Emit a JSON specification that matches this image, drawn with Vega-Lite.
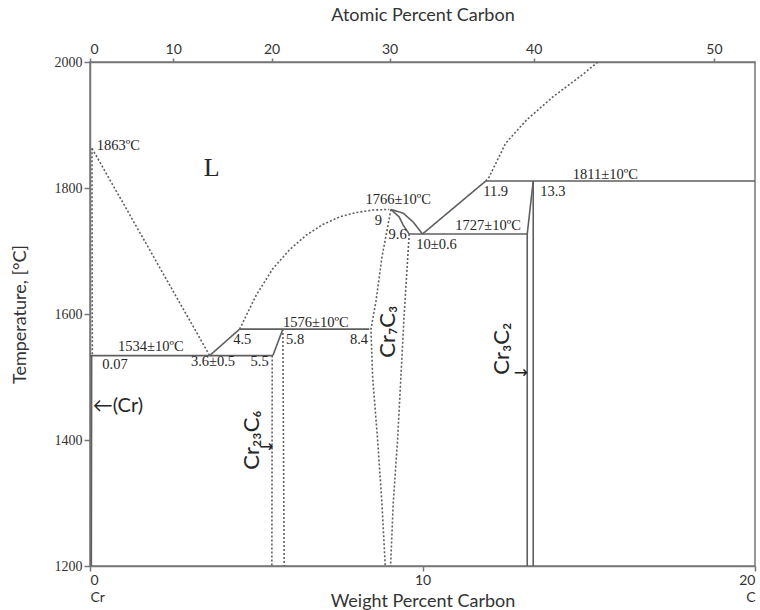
{
  "$schema": "https://vega.github.io/schema/vega-lite/v6.json",
  "width": 665,
  "height": 504,
  "autosize": {"type": "none"},
  "padding": {"left": 90, "top": 62, "right": 5, "bottom": 44},
  "background": "white",
  "config": {
    "view": {"stroke": "#777", "strokeWidth": 1.5},
    "axis": {
      "domainColor": "#777", "domainWidth": 1.5, "tickColor": "#777", "tickWidth": 1.5,
      "labelColor": "#333", "titleColor": "#333", "labelFont": "Lato", "titleFont": "Lato",
      "titleFontWeight": "normal", "grid": false
    }
  },
  "datasets": {
    "lines": [
      {"id": "A", "o": 0, "wt": 0.06, "T": 1863, "s": "dot"},
      {"id": "A", "o": 1, "wt": 3.6, "T": 1534, "s": "dot"},
      {"id": "B", "o": 0, "wt": 0.06, "T": 1863, "s": "dot"},
      {"id": "B", "o": 1, "wt": 0.07, "T": 1534, "s": "dot"},
      {"id": "C", "o": 0, "wt": 0.05, "T": 1534, "s": "solid"},
      {"id": "C", "o": 1, "wt": 0.04, "T": 1200, "s": "solid"},
      {"id": "D", "o": 0, "wt": 0.0, "T": 1534, "s": "solid"},
      {"id": "D", "o": 1, "wt": 5.5, "T": 1534, "s": "solid"},
      {"id": "E", "o": 0, "wt": 3.6, "T": 1534, "s": "solid"},
      {"id": "E", "o": 1, "wt": 4.5, "T": 1576, "s": "solid"},
      {"id": "F", "o": 0, "wt": 4.5, "T": 1576, "s": "dot"},
      {"id": "F", "o": 1, "wt": 5.0, "T": 1630, "s": "dot"},
      {"id": "F", "o": 2, "wt": 5.5, "T": 1672, "s": "dot"},
      {"id": "F", "o": 3, "wt": 6.0, "T": 1702, "s": "dot"},
      {"id": "F", "o": 4, "wt": 6.5, "T": 1725, "s": "dot"},
      {"id": "F", "o": 5, "wt": 7.0, "T": 1742, "s": "dot"},
      {"id": "F", "o": 6, "wt": 7.5, "T": 1754, "s": "dot"},
      {"id": "F", "o": 7, "wt": 8.0, "T": 1761, "s": "dot"},
      {"id": "F", "o": 8, "wt": 8.5, "T": 1765, "s": "dot"},
      {"id": "F", "o": 9, "wt": 9.0, "T": 1766, "s": "dot"},
      {"id": "G", "o": 0, "wt": 4.5, "T": 1576, "s": "solid"},
      {"id": "G", "o": 1, "wt": 8.4, "T": 1576, "s": "solid"},
      {"id": "H1", "o": 0, "wt": 5.5, "T": 1534, "s": "solid"},
      {"id": "H1", "o": 1, "wt": 5.8, "T": 1576, "s": "solid"},
      {"id": "H2", "o": 0, "wt": 5.48, "T": 1534, "s": "dot"},
      {"id": "H2", "o": 1, "wt": 5.47, "T": 1200, "s": "dot"},
      {"id": "H3", "o": 0, "wt": 5.8, "T": 1576, "s": "dot"},
      {"id": "H3", "o": 1, "wt": 5.84, "T": 1200, "s": "dot"},
      {"id": "I", "o": 0, "wt": 9.05, "T": 1766, "s": "dot"},
      {"id": "I", "o": 1, "wt": 8.78, "T": 1690, "s": "dot"},
      {"id": "I", "o": 2, "wt": 8.6, "T": 1620, "s": "dot"},
      {"id": "I", "o": 3, "wt": 8.45, "T": 1576, "s": "dot"},
      {"id": "I", "o": 4, "wt": 8.5, "T": 1500, "s": "dot"},
      {"id": "I", "o": 5, "wt": 8.65, "T": 1400, "s": "dot"},
      {"id": "I", "o": 6, "wt": 8.78, "T": 1300, "s": "dot"},
      {"id": "I", "o": 7, "wt": 8.88, "T": 1200, "s": "dot"},
      {"id": "J", "o": 0, "wt": 9.6, "T": 1727, "s": "dot"},
      {"id": "J", "o": 1, "wt": 9.45, "T": 1600, "s": "dot"},
      {"id": "J", "o": 2, "wt": 9.35, "T": 1500, "s": "dot"},
      {"id": "J", "o": 3, "wt": 9.25, "T": 1400, "s": "dot"},
      {"id": "J", "o": 4, "wt": 9.12, "T": 1300, "s": "dot"},
      {"id": "J", "o": 5, "wt": 9.04, "T": 1200, "s": "dot"},
      {"id": "K", "o": 0, "wt": 9.05, "T": 1766, "s": "solid"},
      {"id": "K", "o": 1, "wt": 9.3, "T": 1754, "s": "solid"},
      {"id": "K", "o": 2, "wt": 9.42, "T": 1741, "s": "solid"},
      {"id": "K", "o": 3, "wt": 9.6, "T": 1727, "s": "solid"},
      {"id": "L", "o": 0, "wt": 9.05, "T": 1766, "s": "solid"},
      {"id": "L", "o": 1, "wt": 9.42, "T": 1760, "s": "solid"},
      {"id": "L", "o": 2, "wt": 9.72, "T": 1746, "s": "solid"},
      {"id": "L", "o": 3, "wt": 10.0, "T": 1727, "s": "solid"},
      {"id": "M", "o": 0, "wt": 9.6, "T": 1727, "s": "solid"},
      {"id": "M", "o": 1, "wt": 13.15, "T": 1727, "s": "solid"},
      {"id": "N", "o": 0, "wt": 10.0, "T": 1727, "s": "solid"},
      {"id": "N", "o": 1, "wt": 11.9, "T": 1811, "s": "solid"},
      {"id": "O", "o": 0, "wt": 11.9, "T": 1811, "s": "solid"},
      {"id": "O", "o": 1, "wt": 20.0, "T": 1811, "s": "solid"},
      {"id": "P", "o": 0, "wt": 11.9, "T": 1811, "s": "dot"},
      {"id": "P", "o": 1, "wt": 12.0, "T": 1817, "s": "dot"},
      {"id": "P", "o": 2, "wt": 12.5, "T": 1871, "s": "dot"},
      {"id": "P", "o": 3, "wt": 13.13, "T": 1908, "s": "dot"},
      {"id": "P", "o": 4, "wt": 13.93, "T": 1945, "s": "dot"},
      {"id": "P", "o": 5, "wt": 14.74, "T": 1977, "s": "dot"},
      {"id": "P", "o": 6, "wt": 15.28, "T": 2000, "s": "dot"},
      {"id": "Q", "o": 0, "wt": 13.33, "T": 1811, "s": "solid"},
      {"id": "Q", "o": 1, "wt": 13.15, "T": 1727, "s": "solid"},
      {"id": "Q", "o": 2, "wt": 13.15, "T": 1200, "s": "solid"},
      {"id": "R", "o": 0, "wt": 13.33, "T": 1811, "s": "solid"},
      {"id": "R", "o": 1, "wt": 13.33, "T": 1200, "s": "solid"}
    ],
    "labels": [
      {"t": "1863ºC", "wt": 0.85, "T": 1866},
      {"t": "1534±10ºC", "wt": 1.83, "T": 1548},
      {"t": "0.07", "wt": 0.75, "T": 1519},
      {"t": "3.6±0.5", "wt": 3.7, "T": 1524},
      {"t": "5.5", "wt": 5.1, "T": 1524},
      {"t": "4.5", "wt": 4.58, "T": 1559},
      {"t": "1576±10ºC", "wt": 6.79, "T": 1586},
      {"t": "5.8", "wt": 6.17, "T": 1559},
      {"t": "8.4", "wt": 8.09, "T": 1559},
      {"t": "1766±10ºC", "wt": 9.27, "T": 1781},
      {"t": "9", "wt": 8.67, "T": 1748},
      {"t": "9.6", "wt": 9.25, "T": 1725},
      {"t": "10±0.6", "wt": 10.42, "T": 1709},
      {"t": "1727±10ºC", "wt": 11.97, "T": 1739},
      {"t": "11.9", "wt": 12.2, "T": 1794},
      {"t": "13.3", "wt": 13.92, "T": 1794},
      {"t": "1811±10ºC", "wt": 15.5, "T": 1821}
    ],
    "phases": [
      {"t": "Cr₂₃C₆", "wt": 4.87, "T": 1400},
      {"t": "Cr₇C₃", "wt": 8.95, "T": 1572},
      {"t": "Cr₃C₂", "wt": 12.39, "T": 1545}
    ],
    "big": [{"t": "L", "wt": 3.66, "T": 1832}],
    "crlabel": [{"t": "←(Cr)", "wt": 0.08, "T": 1454}],
    "arrows": [
      {"t": "→", "wt": 5.52, "T": 1389},
      {"t": "→", "wt": 13.17, "T": 1506}
    ]
  },
  "encoding": {
    "y": {"field": "T", "type": "quantitative",
      "scale": {"domain": [1200, 2000], "nice": false, "zero": false},
      "axis": {"orient": "left", "values": [1200, 1400, 1600, 1800, 2000], "format": "d", "tickSize": 6,
        "labelFont": "Liberation Serif", "labelFontSize": 14, "labelPadding": 2,
        "title": "Temperature, [°C]", "titleFontSize": 18, "titleX": -70, "titleY": 252,
        "titleAngle": 270, "titleAlign": "center", "titleBaseline": "middle"}}
  },
  "layer": [
    {
      "data": {"name": "lines"},
      "mark": {"type": "line", "strokeWidth": 1.6, "color": "#5f5f5f", "clip": true},
      "encoding": {
        "x": {"field": "wt", "type": "quantitative",
          "scale": {"domain": [0, 20], "nice": false, "zero": false},
          "axis": {"orient": "bottom", "values": [0, 10, 20], "tickSize": 5,
            "labelFontSize": 14, "labelLineHeight": 17, "labelPadding": 2,
            "labelExpr": "datum.value == 0 ? ['0', 'Cr'] : datum.value == 20 ? ['20', 'C'] : datum.label",
            "title": "Weight Percent Carbon", "titleFontSize": 18, "titleY": 35, "titleBaseline": "middle"}},
        "detail": {"field": "id"},
        "order": {"field": "o"},
        "strokeDash": {"field": "s", "type": "nominal",
          "scale": {"domain": ["solid", "dot"], "range": [[1, 0], [2, 2]]}, "legend": null}
      }
    },
    {
      "data": {"name": "labels"},
      "mark": {"type": "text", "font": "Liberation Serif", "fontSize": 14.5, "color": "#262626", "baseline": "middle", "align": "center"},
      "encoding": {
        "x": {"field": "wt", "type": "quantitative",
          "axis": {"orient": "top", "values": [0, 2.502, 5.46, 9.008, 13.345, 18.765], "tickSize": 4,
            "labelFontSize": 14, "labelPadding": 2,
            "labelExpr": "format(round(100 * (datum.value / 12.011) / ((datum.value / 12.011) + ((100 - datum.value) / 51.996))), 'd')",
            "title": "Atomic Percent Carbon", "titleFontSize": 18, "titleY": -47, "titleBaseline": "middle"}},
        "text": {"field": "t"}
      }
    },
    {
      "data": {"name": "big"},
      "mark": {"type": "text", "font": "Liberation Serif", "fontSize": 26, "color": "#262626", "baseline": "middle", "align": "center"},
      "encoding": {
        "x": {"field": "wt", "type": "quantitative", "axis": null},
        "text": {"field": "t"}
      }
    },
    {
      "data": {"name": "phases"},
      "mark": {"type": "text", "font": "Lato", "fontSize": 22, "color": "#262626", "baseline": "middle", "align": "center", "angle": 270},
      "encoding": {
        "x": {"field": "wt", "type": "quantitative", "axis": null},
        "text": {"field": "t"}
      }
    },
    {
      "data": {"name": "crlabel"},
      "mark": {"type": "text", "font": "Lato", "fontSize": 20, "color": "#262626", "baseline": "middle", "align": "left"},
      "encoding": {
        "x": {"field": "wt", "type": "quantitative", "axis": null},
        "text": {"field": "t"}
      }
    },
    {
      "data": {"name": "arrows"},
      "mark": {"type": "text", "font": "DejaVu Sans", "fontSize": 17, "color": "#222", "baseline": "middle", "align": "right"},
      "encoding": {
        "x": {"field": "wt", "type": "quantitative", "axis": null},
        "text": {"field": "t"}
      }
    }
  ],
  "resolve": {"axis": {"x": "independent"}}
}
